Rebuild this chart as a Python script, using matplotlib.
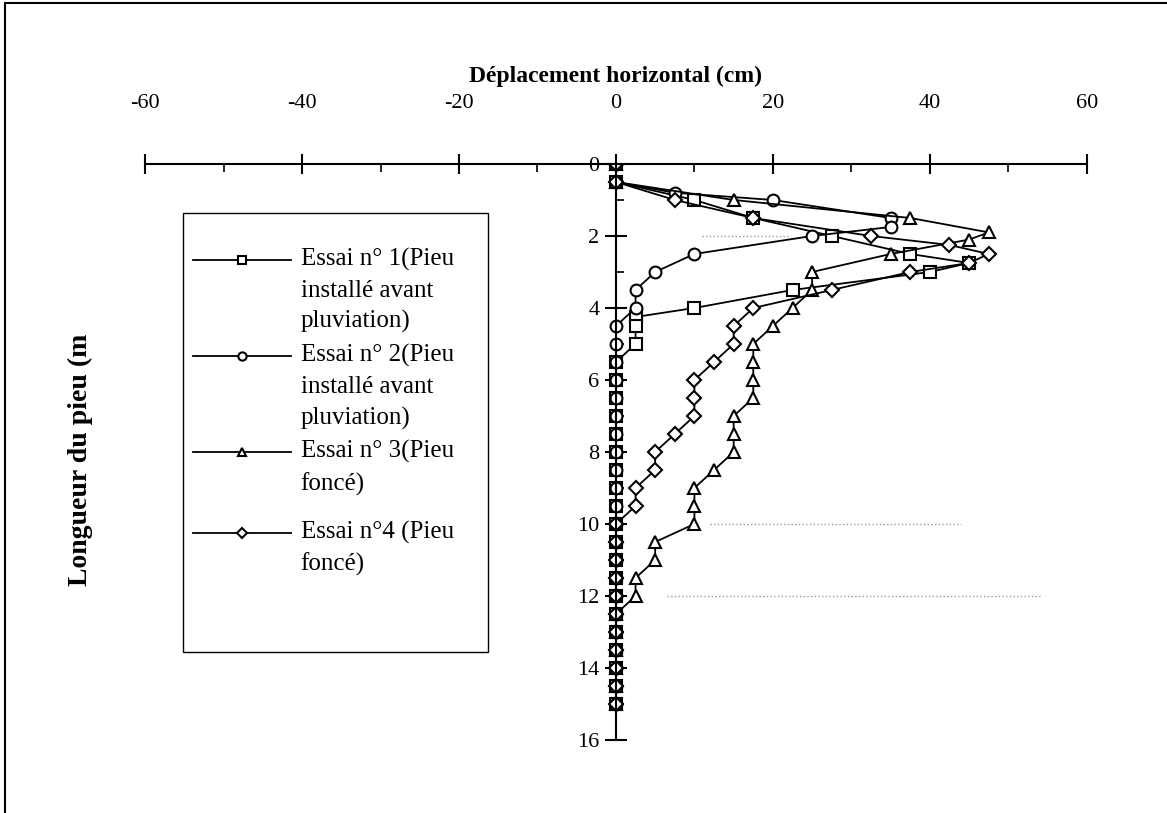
import matplotlib
matplotlib.use("Agg")
import matplotlib.pyplot as plt
from matplotlib.patches import Rectangle
from matplotlib.legend_handler import HandlerLine2D

plt.rcParams['font.family'] = ['Liberation Serif', 'DejaVu Serif']

# profondeur (m) et deplacement (cm)
depth1 = [0, 0.5, 1, 1.5, 2, 2.5, 2.75, 3, 3.5, 4, 4.25, 4.5, 5,
          5.5, 6, 6.5, 7, 7.5, 8, 8.5, 9, 9.5, 10, 10.5, 11, 11.5, 12,
          12.5, 13, 13.5, 14, 14.5, 15]
disp1 = [0, 0, 10, 17.5, 27.5, 37.5, 45, 40, 22.5, 10, 2.5, 2.5, 2.5,
         0, 0, 0, 0, 0, 0, 0, 0, 0, 0, 0, 0, 0, 0,
         0, 0, 0, 0, 0, 0]

depth2 = [0, 0.5, 0.8, 1, 1.5, 1.75, 2, 2.5, 3, 3.5, 4, 4.5, 5,
          5.5, 6, 6.5, 7, 7.5, 8, 8.5, 9, 9.5, 10, 10.5, 11, 11.5, 12,
          12.5, 13, 13.5, 14, 14.5, 15]
disp2 = [0, 0, 7.5, 20, 35, 35, 25, 10, 5, 2.5, 2.5, 0, 0,
         0, 0, 0, 0, 0, 0, 0, 0, 0, 0, 0, 0, 0, 0,
         0, 0, 0, 0, 0, 0]

depth3 = [0, 0.5, 1, 1.5, 1.9, 2.1, 2.5, 3, 3.5, 4, 4.5, 5, 5.5, 6,
          6.5, 7, 7.5, 8, 8.5, 9, 9.5, 10, 10.5, 11, 11.5, 12,
          12.5, 13, 13.5, 14, 14.5, 15]
disp3 = [0, 0, 15, 37.5, 47.5, 45, 35, 25, 25, 22.5, 20, 17.5, 17.5, 17.5,
         17.5, 15, 15, 15, 12.5, 10, 10, 10, 5, 5, 2.5, 2.5,
         0, 0, 0, 0, 0, 0]

depth4 = [0, 0.5, 1, 1.5, 2, 2.25, 2.5, 2.75, 3, 3.5, 4, 4.5, 5, 5.5,
          6, 6.5, 7, 7.5, 8, 8.5, 9, 9.5, 10, 10.5, 11, 11.5, 12,
          12.5, 13, 13.5, 14, 14.5, 15]
disp4 = [0, 0, 7.5, 17.5, 32.5, 42.5, 47.5, 45, 37.5, 27.5, 17.5, 15, 15, 12.5,
         10, 10, 10, 7.5, 5, 5, 2.5, 2.5, 0, 0, 0, 0, 0,
         0, 0, 0, 0, 0, 0]

labels = ["Essai n° 1(Pieu\ninstallé avant\npluviation)",
          "Essai n° 2(Pieu\ninstallé avant\npluviation)",
          "Essai n° 3(Pieu\nfoncé)",
          "Essai n°4 (Pieu\nfoncé)"]


# symbole de legende aligne sur la premiere ligne du texte
class FirstLine(HandlerLine2D):
    def __init__(self, nlines, **kw):
        super().__init__(**kw)
        self.shift = (nlines - 1) / 2 * 22.0

    def create_artists(self, legend, orig_handle, xdescent, ydescent,
                       width, height, fontsize, trans):
        return super().create_artists(legend, orig_handle, xdescent,
                                      ydescent - 2 * self.shift, width, height,
                                      fontsize, trans)


fig = plt.figure(figsize=(11.67, 8.13), dpi=100)
ax = fig.add_axes([0.1243, 0.0898, 0.807, 0.7085])

style = dict(color='black', lw=1.3, mfc='white', mec='black', mew=1.5, ms=8.5)
l1, = ax.plot(disp1, depth1, marker='s', label=labels[0], **style)
l2, = ax.plot(disp2, depth2, marker='o', label=labels[1], **style)
l3, = ax.plot(disp3, depth3, marker='^', label=labels[2], **style)
l4, = ax.plot(disp4, depth4, marker='D', label=labels[3], **dict(style, ms=7))

# traits pointilles (restes de quadrillage)
ax.plot([11, 22], [2, 2], ls=':', color='#999999', lw=1)
ax.plot([12, 44], [10, 10], ls=':', color='#999999', lw=1)
ax.plot([6.5, 54], [12, 12], ls=':', color='#999999', lw=1)

ax.set_xlim(-60, 60)
ax.set_ylim(16, 0)

ax.spines['left'].set_position(('data', 0))
ax.spines['right'].set_visible(False)
ax.spines['bottom'].set_visible(False)
ax.spines['top'].set_linewidth(1.5)
ax.spines['left'].set_linewidth(1.5)

ax.xaxis.set_ticks_position('top')
ax.xaxis.set_label_position('top')
ax.set_xticks([-60, -40, -20, 0, 20, 40, 60])
ax.set_xticks([-50, -30, -10, 10, 30, 50], minor=True)
ax.set_yticks(range(0, 17, 2))
ax.set_yticks(range(1, 16, 2), minor=True)
ax.tick_params(axis='x', which='major', direction='inout', length=14, width=1.5,
               labelsize=16, pad=30)
ax.tick_params(axis='x', which='minor', direction='in', length=6, width=1.2)
ax.tick_params(axis='y', which='major', direction='inout', length=16, width=1.5,
               labelsize=16, pad=4)
ax.tick_params(axis='y', which='minor', direction='in', length=6, width=1.2)
ax.set_xticklabels(['-60', '-40', '-20', '0', '20', '40', '60'])

ax.set_xlabel('Déplacement horizontal (cm)', fontsize=17, fontweight='bold',
              labelpad=8)
fig.text(0.069, 0.434, 'Longueur du pieu (m', rotation=90, fontsize=20,
         fontweight='bold', ha='center', va='center')

# legende : cadre + deux blocs d'entrees
ax.add_patch(Rectangle((0.0403, 0.1528), 0.3238, 0.7621, transform=ax.transAxes,
                       fill=False, edgecolor='black', lw=1.0, zorder=5))
leg_kw = dict(loc='upper left', borderaxespad=0, borderpad=0, fontsize=18,
              frameon=False, markerscale=0.7, handlelength=3.9,
              handletextpad=0.4, labelspacing=0.42)
legA = ax.legend(handles=[l1, l2, l3], bbox_to_anchor=(0.051, 0.8542),
                 handler_map={l1: FirstLine(3), l2: FirstLine(3), l3: FirstLine(2)},
                 **leg_kw)
legB = ax.legend(handles=[l4], bbox_to_anchor=(0.051, 0.3802),
                 handler_map={l4: FirstLine(2)}, **leg_kw)
ax.add_artist(legA)
for lg in (legA, legB):
    for t in lg.get_texts():
        t.set_linespacing(1.5)

# cadre de la figure
fig.patches.append(Rectangle((0.004, -0.01), 1.0, 1.006, transform=fig.transFigure,
                             fill=False, edgecolor='black', lw=1.5))

fig.savefig('out.png', dpi=100)
